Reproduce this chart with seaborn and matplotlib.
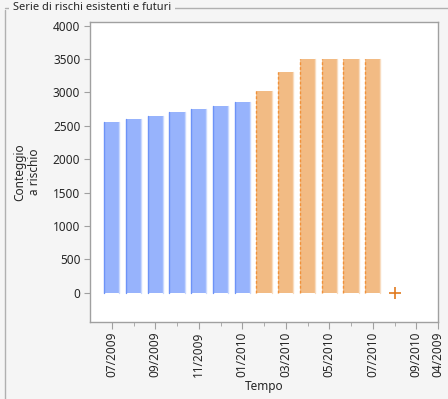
import pandas as pd
import numpy as np
import matplotlib
matplotlib.use("Agg")
import matplotlib.pyplot as plt
import seaborn as sns
from matplotlib.lines import Line2D

# months counted from 01/2009 = 0
mesi_esistenti = [6, 7, 8, 9, 10, 11, 12]          # 07/2009 .. 01/2010
conteggi_esistenti = [2550, 2600, 2650, 2700, 2750, 2800, 2850]
mesi_futuri = [13, 14, 15, 16, 17, 18]              # 02/2010 .. 07/2010
conteggi_futuri = [3020, 3310, 3500, 3500, 3500, 3500]
mese_marker = [19]                                  # 08/2010
valore_marker = [0]

tick_major = [6, 8, 10, 12, 14, 16, 18, 20, 21]
tick_labels = ["07/2009", "09/2009", "11/2009", "01/2010", "03/2010",
               "05/2010", "07/2010", "09/2010", "04/2009"]
tick_minor = [7, 9, 11, 13, 15, 17, 19]

df = pd.DataFrame({
    "Tempo": mesi_esistenti + mesi_futuri,
    "Conteggio": conteggi_esistenti + conteggi_futuri,
    "Serie": ["esistenti"] * len(mesi_esistenti) + ["futuri"] * len(mesi_futuri),
})

sns.set_style("white")
plt.rcParams["font.family"] = ["Noto Sans", "DejaVu Sans"]

bg = "#f5f5f5"
grey = "#a0a0a0"
blue = "#97b3fc"
orange = "#f2bb84"

fig = plt.figure(figsize=(4.48, 3.99), dpi=100, facecolor=bg)
ax = fig.add_axes([90 / 448, 1 - 322 / 399, 348 / 448, 300 / 399])
ax.set_facecolor("white")

sns.barplot(data=df, x="Tempo", y="Conteggio", hue="Serie", native_scale=True,
            palette={"esistenti": blue, "futuri": orange}, dodge=False,
            width=0.69, legend=False, linewidth=0, saturation=1, ax=ax)

# darker left edge of each bar (solid for existing, dashed for future)
for p in ax.patches:
    x0, h = p.get_x(), p.get_height()
    is_blue = p.get_facecolor()[2] > 0.9
    ax.add_line(Line2D([x0, x0], [0, h], color="#6d93f7" if is_blue else "#f0913a",
                       lw=1.0, ls="-" if is_blue else (0, (2, 1.5)), zorder=3))
    ax.add_line(Line2D([x0 + p.get_width(), x0 + p.get_width()], [0, h],
                       color="#c9d8fe" if is_blue else "#f8dcc0", lw=1.0, zorder=3))

sns.scatterplot(x=mese_marker, y=valore_marker, marker="+", s=70, color="#e07a1f",
                linewidth=1.2, ax=ax, zorder=4)

ax.set_xlim(5, 21)
ax.set_ylim(-440, 4055)
ax.set_yticks(np.arange(0, 4001, 500))
ax.set_xticks(tick_major)
ax.set_xticklabels(tick_labels, rotation=90, fontsize=8.5)
ax.set_xticks(tick_minor, minor=True)
ax.tick_params(axis="y", labelsize=8.5, length=4, color=grey, direction="out", left=True, pad=3)
ax.tick_params(axis="x", which="major", length=5, color=grey, direction="out", bottom=True, pad=2)
ax.tick_params(axis="x", which="minor", length=3, color=grey, direction="out", bottom=True)
for s in ax.spines.values():
    s.set_color(grey)
    s.set_linewidth(1.0)
ax.set_xlabel("Tempo", fontsize=8.5, labelpad=2)
ax.set_ylabel("Conteggio\na rischio", fontsize=8.5, labelpad=8.5)

# group box frame with its title
fig.add_artist(Line2D([5 / 448, 5 / 448], [0, 1 - 10 / 399], color="#b0b0b0", lw=1,
                      transform=fig.transFigure))
fig.add_artist(Line2D([5 / 448, 1], [1 - 7.5 / 399, 1 - 7.5 / 399], color="#b0b0b0", lw=1,
                      transform=fig.transFigure))
fig.text(10 / 448, 1 - 7.5 / 399, " Serie di rischi esistenti e futuri ", fontsize=8,
         va="center", ha="left", backgroundcolor=bg,
         bbox=dict(facecolor=bg, edgecolor="none", pad=0.5))

fig.savefig("out.png", dpi=100, facecolor=bg)
